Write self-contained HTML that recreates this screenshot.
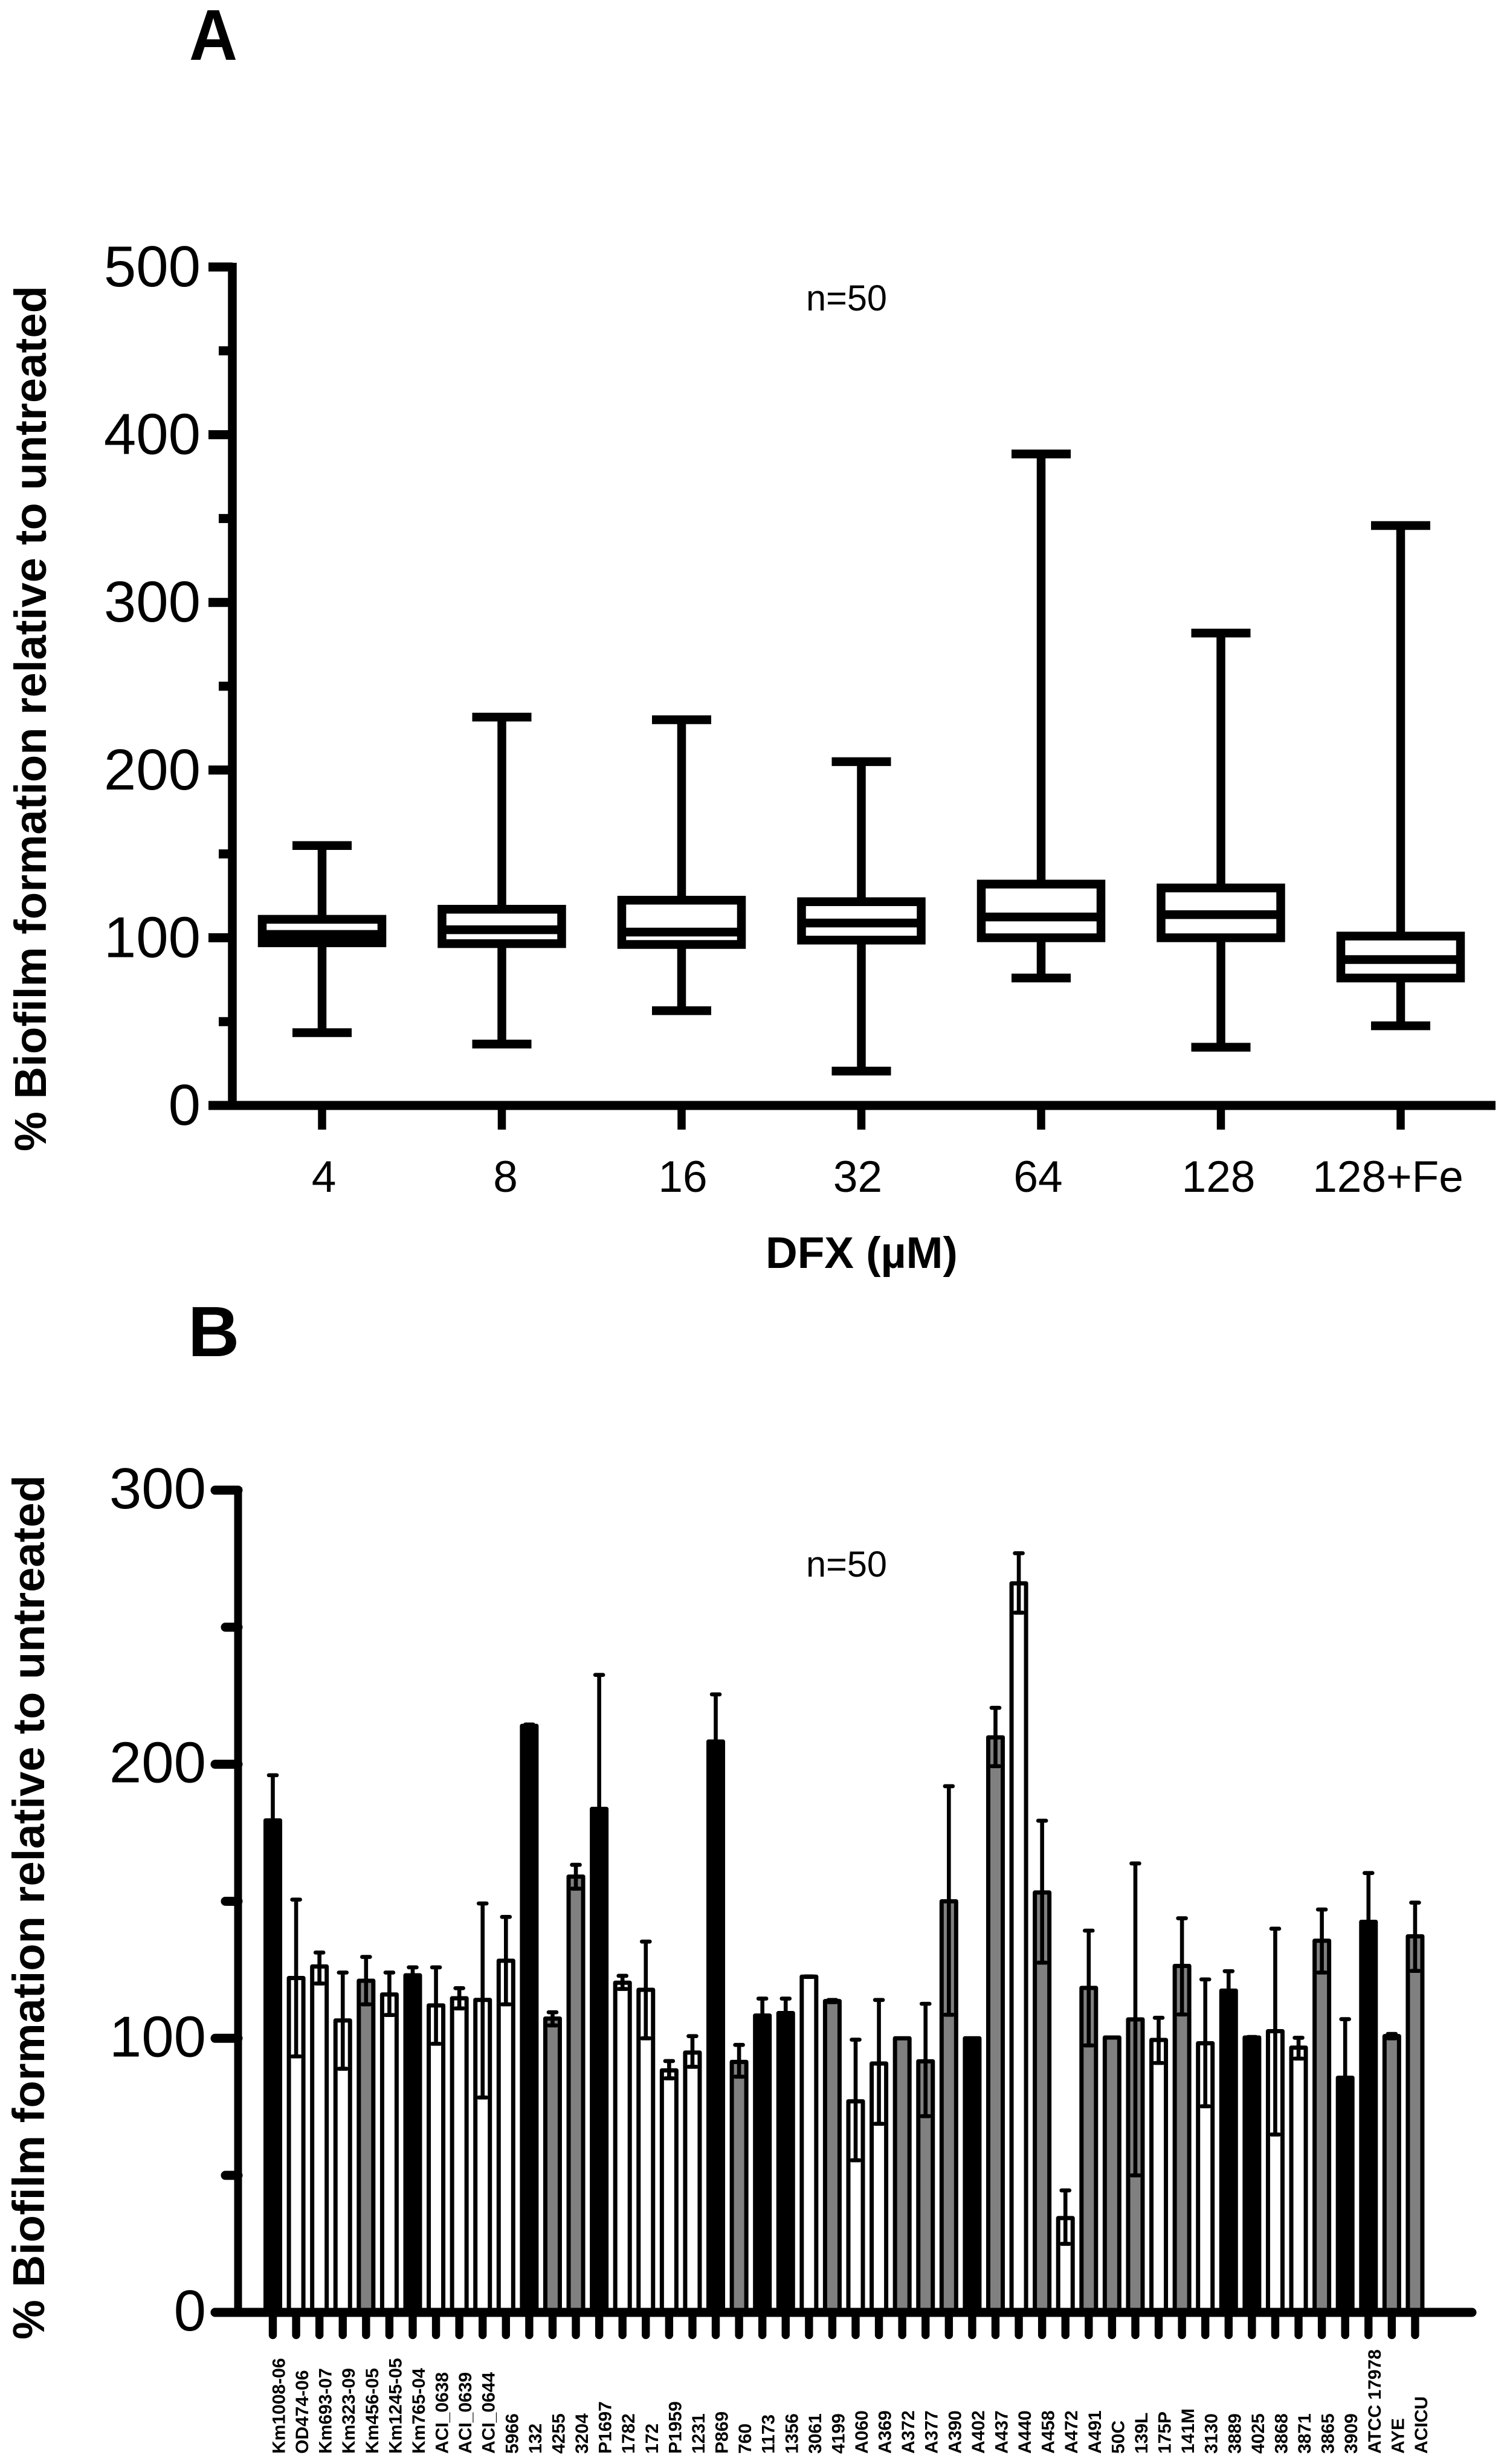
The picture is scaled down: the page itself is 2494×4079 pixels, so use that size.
<!DOCTYPE html>
<html lang="en">
<head>
<meta charset="utf-8">
<title>Biofilm formation relative to untreated</title>
<style>
html,body{margin:0;padding:0;background:#fff;}
svg{display:block;}
text{font-family:"Liberation Sans",Arial,sans-serif;fill:#000;}
.b{font-weight:bold;}
</style>
</head>
<body>
<svg id="fig" xmlns="http://www.w3.org/2000/svg" width="2494" height="4079" viewBox="0 0 2494 4079">
  <rect x="0" y="0" width="2494" height="4079" fill="#fff"/>

  <text class="b" x="313" y="99" font-size="119" textLength="80" lengthAdjust="spacingAndGlyphs">A</text>
  <text class="b" font-size="74" transform="translate(76 1906) rotate(-90)" textLength="1433" lengthAdjust="spacing">% Biofilm formation relative to untreated</text>
  <text class="b" x="1267" y="2099" font-size="73">DFX (µM)</text>
  <text x="1334" y="514" font-size="60" textLength="134" lengthAdjust="spacingAndGlyphs">n=50</text>
  <g id="panelA"></g>

  <text class="b" x="311" y="2245" font-size="118">B</text>
  <text class="b" font-size="74" transform="translate(73 3873) rotate(-90)" textLength="1431" lengthAdjust="spacing">% Biofilm formation relative to untreated</text>
  <text x="1334" y="2610" font-size="60" textLength="134" lengthAdjust="spacingAndGlyphs">n=50</text>
  <g id="panelB"></g>
</svg>

<script>
// ---------- Panel A data ----------
const doseLabels = ["4","8","16","32","64","128","128+Fe"];
const boxMin    = [43.4, 36.6, 56.5, 20.5, 76, 34.7, 47.5];
const boxQ1     = [97, 96.5, 96, 98.6, 100, 100, 76];
const boxMedian = [102, 104.8, 103.4, 108.8, 112.4, 113.8, 87];
const boxQ3     = [111, 117, 122.4, 121.5, 132, 129.7, 101];
const boxMax    = [155, 231.6, 230, 205, 388.5, 281.7, 345.8];
const panelAMajorTicks = [0,100,200,300,400,500];
const panelAMinorTicks = [50,150,250,350,450];

// ---------- Panel B data ----------
const strainNames = ["Km1008-06","OD474-06","Km693-07","Km323-09","Km456-05","Km1245-05","Km765-04","ACI_0638","ACI_0639","ACI_0644","5966","132","4255","3204","P1697","1782","172","P1959","1231","P869","760","1173","1356","3061","4199","A060","A369","A372","A377","A390","A402","A437","A440","A458","A472","A491","50C","139L","175P","141M","3130","3889","4025","3868","3871","3865","3909","ATCC 17978","AYE","ACICU"];
const strainMeans = [179.5,122,126.2,106.5,121,116,123,112,114.6,114,128.3,214,107.2,159,183.7,120.3,117.7,88.3,94.8,208.3,91.4,108.3,109.2,122.5,113.6,77,90.8,100,91.6,150,100,209.8,266,153.2,34.4,118.4,100.3,106.9,99.4,126.4,98.2,117.4,100.3,102.6,96.6,135.6,85.6,142.5,100.8,137.2];
const strainUpper = [196,150.6,131.3,124,129.7,124,125.9,125.9,118.3,149.2,144.3,214.5,109.5,163.3,232.6,122.8,135.3,91.7,100.8,225.5,97.6,114.5,114.5,122.6,114,99.5,114,100,112.6,192,100,220.6,277,179.4,44.5,139.3,100.3,163.8,107.5,143.8,121.5,124.5,100.5,140,100.2,147,107,160.3,101.6,149.5];
const strainLower = [163,93.4,120,88.9,112.4,108.5,121,98,110.9,78.4,112.4,213.5,104.7,154.6,135,118,100,85.4,89.6,191,86,102,104,122.4,113.2,55.5,68.8,100,71.6,108.6,100,199.3,255.3,127.6,25,97.4,100.3,50,91,108.7,75.2,110,100,64.9,92.6,124,64,125,100,124.6];
// 0 = filled-dark group, 1 = open group, 2 = mid group
const strainGroups = [0,1,1,1,2,1,0,1,1,1,1,0,2,2,0,1,1,1,1,0,2,0,0,1,2,1,1,2,2,2,0,2,1,2,1,2,2,2,1,2,1,0,0,1,1,2,0,0,2,2];
const panelBMajorTicks = [0,100,200,300];
const panelBMinorTicks = [50,150,250];

// ---------- Helpers ----------
const NS = "http://www.w3.org/2000/svg";
function make(parent, tag, attrs, txt){
  const e = document.createElementNS(NS, tag);
  for (const k in attrs) e.setAttribute(k, attrs[k]);
  if (txt !== undefined) e.textContent = txt;
  parent.appendChild(e);
  return e;
}
function slug(s){ return String(s).toLowerCase().replace(/[^a-z0-9]+/g,'-'); }
const groupFill = ["#000","#fff","#808080"];

// ---------- Panel A ----------
const gA = document.getElementById("panelA");
const yA = v => 1830 - 2.776 * v;
const xA = i => 533 + 297.5 * i;
const doseLabelShift = [3,6,2,-6,-5,-4,-21];
const AS = 14.5;

doseLabels.forEach((lab,i)=>{
  const cx = xA(i), hw = 99, cw = 49;
  let e;
  e = make(gA,"line",{x1:cx,x2:cx,y1:yA(boxMax[i]),y2:yA(boxMin[i]),stroke:"#000","stroke-width":AS});
  
  
  e = make(gA,"line",{x1:cx-cw,x2:cx+cw,y1:yA(boxMax[i]),y2:yA(boxMax[i]),stroke:"#000","stroke-width":AS});
  
  
  e = make(gA,"line",{x1:cx-cw,x2:cx+cw,y1:yA(boxMin[i]),y2:yA(boxMin[i]),stroke:"#000","stroke-width":AS});
  
  
  e = make(gA,"rect",{x:cx-hw,y:yA(boxQ3[i]),width:2*hw,height:yA(boxQ1[i])-yA(boxQ3[i]),fill:"#fff",stroke:"#000","stroke-width":AS});
  
  
  e = make(gA,"line",{x1:cx-hw,x2:cx+hw,y1:yA(boxMedian[i]),y2:yA(boxMedian[i]),stroke:"#000","stroke-width":AS});
  
  
  e = make(gA,"line",{x1:cx,x2:cx,y1:1830,y2:1870,stroke:"#000","stroke-width":13.5});
  
  
  e = make(gA,"text",{x:cx+doseLabelShift[i],y:1973,"font-size":73,"text-anchor":"middle"},lab);
  
  
});

let axA = make(gA,"line",{x1:384.5,x2:384.5,y1:435,y2:1837,stroke:"#000","stroke-width":14.5});


axA = make(gA,"line",{x1:345,x2:2475,y1:1830,y2:1830,stroke:"#000","stroke-width":15});



panelAMajorTicks.forEach(v=>{
  let e = make(gA,"line",{x1:345,x2:385,y1:yA(v),y2:yA(v),stroke:"#000","stroke-width":15});
  
  
  e = make(gA,"text",{x:332,y:yA(v)+32,"font-size":96,"text-anchor":"end"},String(v));
  
  
});
panelAMinorTicks.forEach(v=>{
  const e = make(gA,"line",{x1:362,x2:385,y1:yA(v),y2:yA(v),stroke:"#000","stroke-width":15});
  
  
});

// ---------- Panel B ----------
const gB = document.getElementById("panelB");
const yB = v => 3828 - 4.537 * v;
const xB = i => 451.5 + 38.58 * i;

strainNames.forEach((name,i)=>{
  const cx = xB(i), s = slug(name);
  let e = make(gB,"rect",{x:cx-12,y:yB(strainMeans[i]),width:24,height:3828-yB(strainMeans[i]),fill:groupFill[strainGroups[i]],stroke:"#000","stroke-width":7,"stroke-linejoin":"round"});
  
  
  if (strainUpper[i] > strainLower[i]) {
    e = make(gB,"line",{x1:cx,x2:cx,y1:yB(strainUpper[i]),y2:yB(strainLower[i]),stroke:"#000","stroke-width":6.6});
    
    
    e = make(gB,"line",{x1:cx-6.5,x2:cx+6.5,y1:yB(strainUpper[i]),y2:yB(strainUpper[i]),stroke:"#000","stroke-width":6.6,"stroke-linecap":"round"});
    
    
    e = make(gB,"line",{x1:cx-6.5,x2:cx+6.5,y1:yB(strainLower[i]),y2:yB(strainLower[i]),stroke:"#000","stroke-width":6.6,"stroke-linecap":"round"});
    
    
  }
  e = make(gB,"line",{x1:cx,x2:cx,y1:3830,y2:3865.5,stroke:"#000","stroke-width":13.4,"stroke-linecap":"round"});
  
  
  e = make(gB,"text",{"class":"b","font-size":30,transform:"translate("+(cx+20)+" 4062) rotate(-90)"},name);
  
  
});

let axB = make(gB,"line",{x1:394,x2:394,y1:2462,y2:3832,stroke:"#000","stroke-width":13});


axB = make(gB,"line",{x1:356,x2:2436,y1:3828,y2:3828,stroke:"#000","stroke-width":15,"stroke-linecap":"round"});



panelBMajorTicks.forEach(v=>{
  let e = make(gB,"line",{x1:356,x2:394,y1:yB(v),y2:yB(v),stroke:"#000","stroke-width":15,"stroke-linecap":"round"});
  
  
  e = make(gB,"text",{x:341,y:yB(v)+30,"font-size":96,"text-anchor":"end"},String(v));
  
  
});
panelBMinorTicks.forEach(v=>{
  const e = make(gB,"line",{x1:373,x2:394,y1:yB(v),y2:yB(v),stroke:"#000","stroke-width":15,"stroke-linecap":"round"});
  
  
});
</script>
</body>
</html>
